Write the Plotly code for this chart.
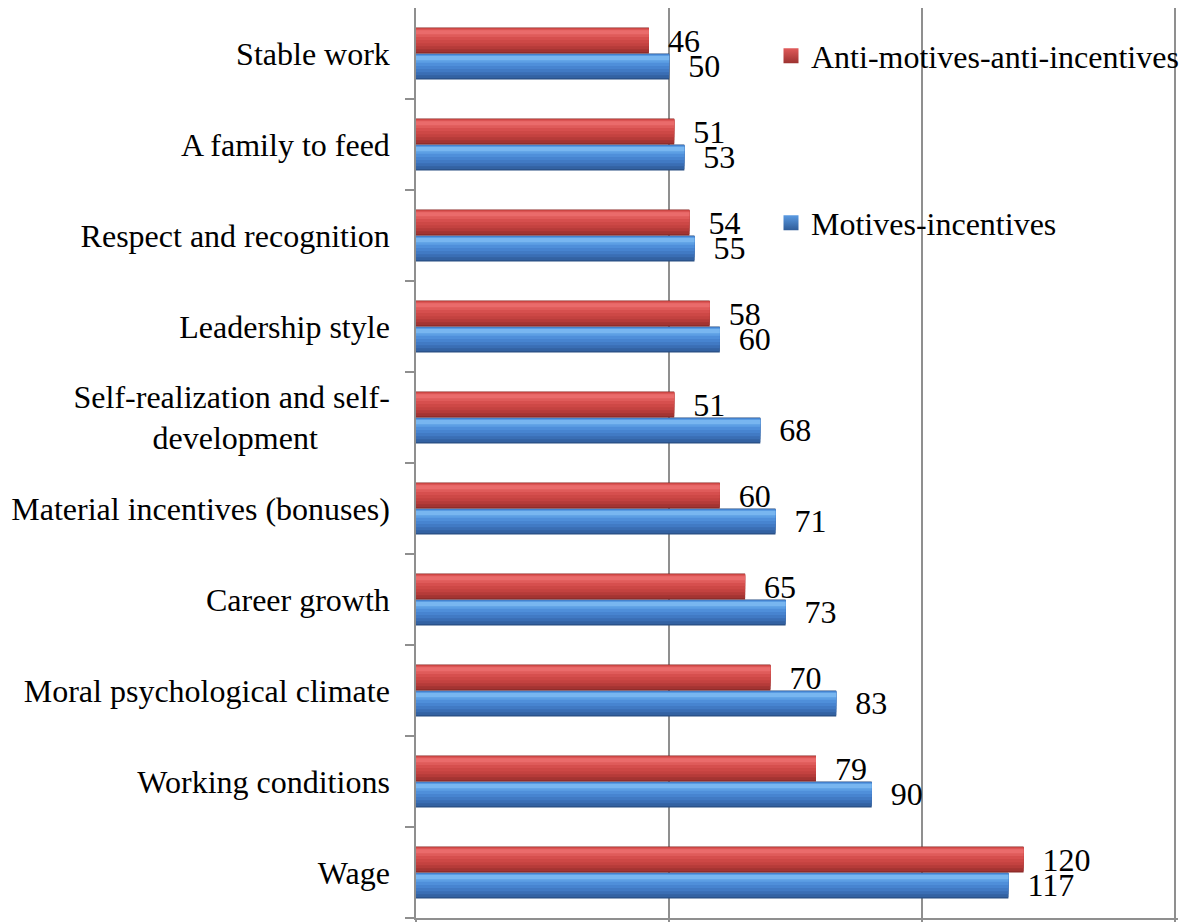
import plotly.graph_objects as go

# ---- data (top to bottom as shown in the chart) ----
categories = [
    "Stable work",
    "A family to feed",
    "Respect and recognition",
    "Leadership style",
    "Self-realization and self-development",
    "Material incentives (bonuses)",
    "Career growth",
    "Moral psychological climate",
    "Working conditions",
    "Wage",
]
anti_motives = [46, 51, 54, 58, 51, 60, 65, 70, 79, 120]
motives = [50, 53, 55, 60, 68, 71, 73, 83, 90, 117]

series_anti = "Anti-motives-anti-incentives"
series_mot = "Motives-incentives"

# ---- styling ----
FONT = "Times New Roman, Liberation Serif, DejaVu Serif, Tinos, serif"
NBSP = "\u00a0"
tick_text = {
    "Self-realization and self-development":
        "Self-realization and self-<br>development" + NBSP * 9,
}
display = [tick_text.get(c, c) for c in categories]

W = 0.285  # bar thickness in category units

# cylinder-like shading: stacked bands (fraction from bottom, colour)
red_layers = [(0.00, 1.00, "#8A2A28"), (0.05, 0.97, "#A33432"),
              (0.16, 0.97, "#B53B39"), (0.28, 0.97, "#C34240"),
              (0.40, 0.96, "#CD4846"), (0.52, 0.95, "#D64F4E"),
              (0.64, 0.93, "#DF5B5A"), (0.74, 0.90, "#EA6B6B")]
blue_layers = [(0.00, 1.00, "#284E82"), (0.05, 0.97, "#3362A2"),
               (0.16, 0.97, "#3A6EB4"), (0.28, 0.97, "#417AC4"),
               (0.40, 0.96, "#4784D0"), (0.52, 0.95, "#4F8FDA"),
               (0.64, 0.93, "#5D9FE4"), (0.74, 0.90, "#78B6F0")]

fig = go.Figure()


def add_series(values, name, legend, base_offset, layers, legend_color,
               legend_dark):
    for i, (lo, hi, color) in enumerate(layers):
        first = i == 0
        fig.add_trace(go.Bar(
            y=categories, x=values, orientation="h",
            name=name, legend=legend,
            offset=base_offset + lo * W, width=(hi - lo) * W,
            marker=dict(color=color, line=dict(width=0)),
            showlegend=False,
            text=[f"{NBSP}{NBSP}{v}" for v in values] if first else None,
            textposition="outside" if first else "none",
            textfont=dict(family=FONT, size=32, color="black"),
            constraintext="none", cliponaxis=False,
            hoverinfo="skip" if not first else None,
        ))
    # legend key (square swatch, like the reference)
    fig.add_trace(go.Scatter(
        x=[None], y=[None], mode="markers", name=name, legend=legend,
        marker=dict(symbol="square", size=15, color=legend_color,
                    gradient=dict(type="vertical", color=legend_dark),
                    line=dict(width=0)),
        showlegend=True,
    ))


add_series(motives, series_mot, "legend2", -W, blue_layers,
           "#5A9AE2", "#2F5C98")
add_series(anti_motives, series_anti, "legend", 0.0, red_layers,
           "#E05A5A", "#9C3230")

# the page body adds an 8px offset; target positions are window pixels
OFF = 8
X_MAX = 150.5
plot_l, plot_r, plot_t, plot_b = 416 - OFF, 1178 - OFF, 8 - OFF, 918 - OFF
W_PX, H_PX = 1190 - OFF, 922 - OFF
pw = plot_r - plot_l
ph = plot_b - plot_t


def px_x(x):
    return (x - OFF - plot_l) / pw


def px_y(y):
    return 1 - (y - OFF - plot_t) / ph


legend_common = dict(
    xanchor="left", yanchor="middle", bgcolor="rgba(0,0,0,0)",
    borderwidth=0, font=dict(family=FONT, size=32, color="black"),
    itemwidth=30,
)

fig.update_layout(
    width=W_PX, height=H_PX,
    margin=dict(l=plot_l, r=W_PX - plot_r, t=plot_t, b=H_PX - plot_b, pad=0,
                autoexpand=False),
    paper_bgcolor="white", plot_bgcolor="white",
    font=dict(family=FONT, size=32, color="black"),
    barmode="overlay",
    legend=dict(x=px_x(771), y=px_y(56), **legend_common),
    legend2=dict(x=px_x(771), y=px_y(223), **legend_common),
    xaxis=dict(
        range=[0, X_MAX], tick0=0, dtick=50, showticklabels=False,
        showgrid=True, gridcolor="#8F8F8F", gridwidth=1.5,
        zeroline=False, showline=True, linecolor="#8F8F8F", linewidth=1.5,
        ticks="outside", ticklen=6, tickcolor="#8F8F8F", tickwidth=1.5,
    ),
    yaxis=dict(
        type="category", categoryorder="array",
        categoryarray=categories[::-1],
        tickmode="array", tickvals=categories, ticktext=display,
        tickson="boundaries", ticks="outside", ticklen=9,
        tickcolor="#8F8F8F", tickwidth=1.5,
        showline=True, linecolor="#8F8F8F", linewidth=1.5,
        showgrid=False, zeroline=False,
        tickfont=dict(family=FONT, size=32, color="black"),
        ticklabelstandoff=18,
    ),
)

fig.write_html("out.html")
